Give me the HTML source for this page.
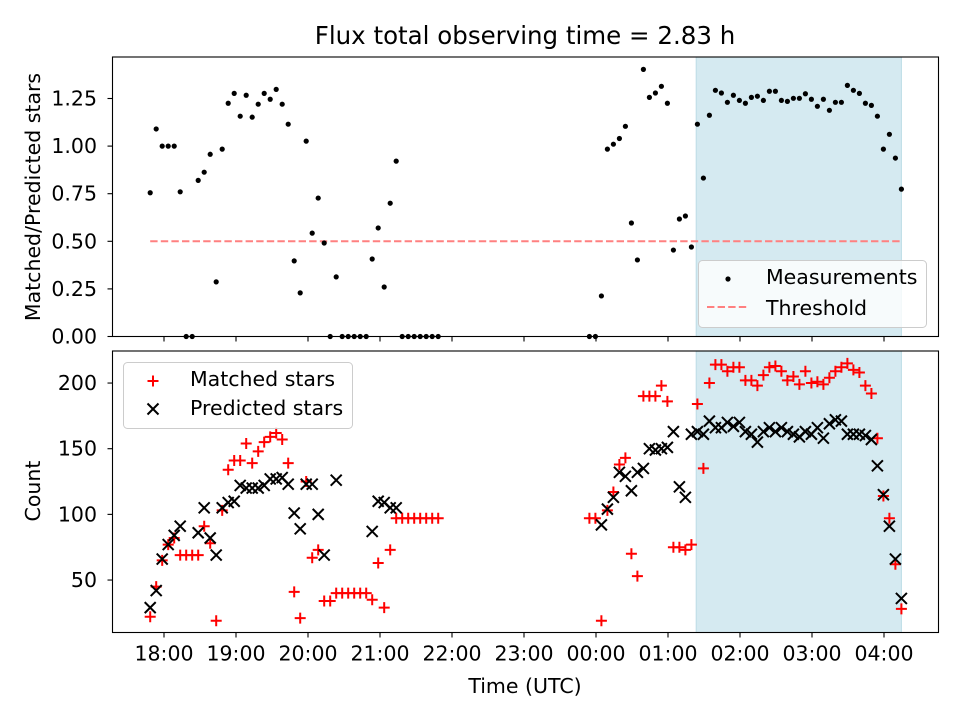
<!DOCTYPE html>
<html><head><meta charset="utf-8"><style>
html,body{margin:0;padding:0;background:#fff;}
svg{display:block;font-family:"DejaVu Sans","Liberation Sans",sans-serif;}
</style></head><body>
<svg id="chart" width="960" height="720" viewBox="0 0 960 720" xmlns="http://www.w3.org/2000/svg">
<rect x="0" y="0" width="960" height="720" fill="#fff"/>
<text x="525" y="44" text-anchor="middle" font-size="24.5" fill="#000">Flux total observing time = 2.83 h</text>
<g id="topAxes"></g>
<g id="botAxes"></g>
</svg>
<script>
// minutes since 18:00 for each observation
const times1 = [-11.5,-6.5,-1.5,3.5,8.5,13.5,18.5,23.5,28.5,33.5,38.5,43.5,48.5,53.5,58.5,63.5,68.5,73.5,78.5,83.5,88.5,93.5,98.5,103.5,108.5,113.5,118.5,123.5,128.5,133.5,138.5,143.5,148.5,153.5,158.5,163.5,168.5,173.5,178.5,183.5,188.5,193.5,198.5,203.5,208.5,213.5,218.5,223.5,228.5];
const times2 = [354.5,359.5,364.5,369.5,374.5,379.5,384.5,389.5,394.5,399.5,404.5,409.5,414.5,419.5,424.5,429.5,434.5,439.5,444.5,449.5,454.5,459.5,464.5,469.5,474.5,479.5,484.5,489.5,494.5,499.5,504.5,509.5,514.5,519.5,524.5,529.5,534.5,539.5,544.5,549.5,554.5,559.5,564.5,569.5,574.5,579.5,584.5,589.5,594.5,599.5,604.5,609.5,614.5];
const ratio1 = [0.755,1.09,1.0,1.0,1.0,0.76,0,0,0.82,0.863,0.957,0.287,0.984,1.225,1.277,1.157,1.267,1.152,1.22,1.277,1.246,1.298,1.22,1.115,0.397,0.229,1.026,0.543,0.727,0.491,0,0.313,0,0,0,0,0,0.407,0.57,0.26,0.70,0.921,0,0,0,0,0,0,0];
const ratio2 = [0,0,0.213,0.984,1.01,1.04,1.104,0.596,0.402,1.403,1.256,1.279,1.314,1.225,0.454,0.617,0.633,0.47,1.115,0.832,1.162,1.293,1.279,1.23,1.267,1.24,1.225,1.256,1.262,1.24,1.288,1.288,1.24,1.235,1.251,1.251,1.275,1.246,1.209,1.246,1.188,1.23,1.23,1.319,1.293,1.277,1.225,1.214,1.157,0.984,1.062,0.937,0.774];
const matched1 = [22,45,65,77,82,69,69,69,69,91,78,19,103,134,141,141,154,139,148,155,159,162,157,139,41,21,125,67,73,34,34,40,40,40,40,40,40,35,63,29,73,97,97,97,97,97,97,97,97];
const matched2 = [97,97,19,103,117,138,143,70,53,190,190,190,198,186,75,75,73,77,184,135,200,214,214,209,212,212,202,202,198,206,212,213,209,202,205,199,209,200,201,199,204,209,212,215,210,208,198,192,158,114,97,62,28];
const predicted1 = [29,42,66,77,84,91,null,null,86,105,82,69,105,109,110,122,120,120,120,122,127,127,128,123,101,89,123,123,100,69,null,126,null,null,null,null,null,87,110,109,105,105,null,null,null,null,null,null,null];
const predicted2 = [null,null,92,104,113,132,129,118,132,135,150,149,150,151,163,121,113,161,163,161,171,166,166,170,167,170,163,161,155,163,166,163,166,163,161,159,163,161,166,158,169,172,171,161,161,161,160,157,137,115,91,66,36];
const xTickLabels = ["18:00","19:00","20:00","21:00","22:00","23:00","00:00","01:00","02:00","03:00","04:00"];
const xTickMinutes = [0,60,120,180,240,300,360,420,480,540,600];
const yTopTicks = [0,0.25,0.5,0.75,1.0,1.25];
const yBotTicks = [50,100,150,200];
const threshold = 0.5;
const shadeStartMin = 443.5;
const shadeEndMin = 614.5;

(function(){
const NS = "http://www.w3.org/2000/svg";
const FS = 20.5;
const L=112.5, R=938.5;
const T1=57, B1=336.5, T2=351, B2=632.5;
const x = m => 164 + m*72/60;
const yTop = v => 336.5 - v*190.4;
const yBot = v => 645.7 - v*1.3133;
function mk(tag, attrs, parent){const e=document.createElementNS(NS,tag);for(const k in attrs)e.setAttribute(k,attrs[k]);parent.appendChild(e);return e;}

const gTop=document.getElementById('topAxes'), gBot=document.getElementById('botAxes');
const times=times1.concat(times2);
const ratios=ratio1.concat(ratio2);
const matched=matched1.concat(matched2);
const predicted=predicted1.concat(predicted2);

[[gTop,T1,B1,'top'],[gBot,T2,B2,'bottom']].forEach(([g,Tt,Bb,nm])=>{
  const s=mk('rect',{x:x(shadeStartMin),y:Tt,width:x(shadeEndMin)-x(shadeStartMin),height:Bb-Tt,fill:'#d5eaf1',stroke:'#bcdce6','stroke-width':1},g);
  
  
});

const th=mk('line',{x1:x(times1[0]),x2:x(times2[times2.length-1]),y1:yTop(threshold),y2:yTop(threshold),stroke:'#ff8080','stroke-width':2,'stroke-dasharray':'7.4 3.2'},gTop);



times.forEach((t,i)=>{
  const c=mk('circle',{cx:x(t),cy:yTop(ratios[i]),r:2.6,fill:'#000'},gTop);
  
  
});

function plus(g,cx,cy,col){return mk('path',{d:`M${cx-5.5},${cy}H${cx+5.5}M${cx},${cy-5.5}V${cy+5.5}`,stroke:col,'stroke-width':2,fill:'none'},g);}
function cross(g,cx,cy,col){return mk('path',{d:`M${cx-5.5},${cy-5.5}L${cx+5.5},${cy+5.5}M${cx-5.5},${cy+5.5}L${cx+5.5},${cy-5.5}`,stroke:col,'stroke-width':2,fill:'none'},g);}
const defs=mk('defs',{},document.getElementById('chart'));
const clipB=mk('clipPath',{id:'cb'},defs);
mk('rect',{x:L,y:T2,width:R-L,height:B2-T2},clipB);
const gm=mk('g',{'clip-path':'url(#cb)'},gBot);
times.forEach((t,i)=>{
  if(matched[i]!=null){
    const p=plus(gm,x(t),yBot(matched[i]),'#ff0000');
    
    
  }
});
times.forEach((t,i)=>{
  if(predicted[i]!=null){
    const p=cross(gm,x(t),yBot(predicted[i]),'#000');
    
    
  }
});

[[gTop,T1,B1,'top'],[gBot,T2,B2,'bottom']].forEach(([g,Tt,Bb,nm])=>{
  const f=mk('rect',{x:L,y:Tt,width:R-L,height:Bb-Tt,fill:'none',stroke:'#000','stroke-width':1.1},g);
  
  
  xTickMinutes.forEach(m=>{
    mk('line',{x1:x(m),x2:x(m),y1:Bb,y2:Bb+5,stroke:'#000','stroke-width':1.1},g);
  });
});
xTickMinutes.forEach((m,i)=>{
  const t=mk('text',{x:x(m),y:B2+28,'text-anchor':'middle','font-size':FS},gBot);
  t.textContent=xTickLabels[i];
  
  
});
yTopTicks.forEach(v=>{
  mk('line',{x1:L-5,x2:L,y1:yTop(v),y2:yTop(v),stroke:'#000','stroke-width':1.1},gTop);
  const t=mk('text',{x:97,y:yTop(v)+7,'text-anchor':'end','font-size':FS},gTop);
  t.textContent=v.toFixed(2);
  
  
});
yBotTicks.forEach(v=>{
  mk('line',{x1:L-5,x2:L,y1:yBot(v),y2:yBot(v),stroke:'#000','stroke-width':1.1},gBot);
  const t=mk('text',{x:97,y:yBot(v)+7,'text-anchor':'end','font-size':FS},gBot);
  t.textContent=String(v);
  
  
});

const svg=document.getElementById('chart');
let t;
t=mk('text',{x:525,y:693,'text-anchor':'middle','font-size':FS},svg);t.textContent='Time (UTC)';


t=mk('text',{x:40,y:197,'text-anchor':'middle','font-size':FS,transform:'rotate(-90 40 197)'},svg);t.textContent='Matched/Predicted stars';


t=mk('text',{x:40,y:491,'text-anchor':'middle','font-size':FS,transform:'rotate(-90 40 491)'},svg);t.textContent='Count';



const lg1=mk('g',{},svg);


mk('rect',{x:698.5,y:260.5,width:228,height:67,rx:4,fill:'#fff','fill-opacity':0.8,stroke:'#cccccc','stroke-width':1},lg1);
mk('circle',{cx:728,cy:279,r:2.6,fill:'#000'},lg1);
t=mk('text',{x:766,y:284,'font-size':FS},lg1);t.textContent='Measurements';


mk('line',{x1:707,x2:749,y1:307,y2:307,stroke:'#ff8080','stroke-width':2,'stroke-dasharray':'7.4 3.2'},lg1);
t=mk('text',{x:766,y:315,'font-size':FS},lg1);t.textContent='Threshold';



const lg2=mk('g',{},svg);


mk('rect',{x:123.5,y:362.5,width:229,height:66,rx:4,fill:'#fff','fill-opacity':0.8,stroke:'#cccccc','stroke-width':1},lg2);
mk('path',{d:'M147.5,381H158.5M153,375.5V386.5',stroke:'#ff0000','stroke-width':2,fill:'none'},lg2);
t=mk('text',{x:190,y:386,'font-size':FS},lg2);t.textContent='Matched stars';


mk('path',{d:'M147.5,403.5L158.5,414.5M147.5,414.5L158.5,403.5',stroke:'#000','stroke-width':2,fill:'none'},lg2);
t=mk('text',{x:190,y:415,'font-size':FS},lg2);t.textContent='Predicted stars';


})();
</script>
</body></html>
